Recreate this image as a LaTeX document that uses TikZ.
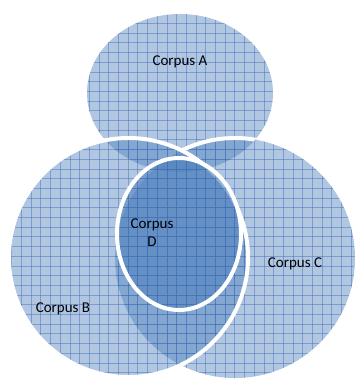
\documentclass[tikz,border=0pt]{standalone}
\usepackage{fontspec}
\setmainfont{Carlito}
\definecolor{vblue}{RGB}{79,129,189}
\definecolor{gridblue}{RGB}{60,105,180}
\begin{document}
\begin{tikzpicture}[x=1pt,y=-1pt,
  vfill/.style={fill=vblue, fill opacity=0.45},
  vgrid/.style={draw=gridblue, line width=0.7pt, draw opacity=0.45},
  vout/.style={draw=white, line width=4pt},
  lab/.style={font=\fontsize{15}{18}\selectfont, text=black, align=center, inner sep=0pt}]
\useasboundingbox (0,0) rectangle (355,382);
\def\shA{(180,93) ellipse [x radius=93, y radius=79]}
\def\shB{(128.5,257.5) circle [radius=119.5]}
\def\shC{(235,258) circle [radius=120]}
\def\shD{(179,234) ellipse [x radius=62, y radius=76]}
\newcommand\vgridlines{%
  \foreach \k in {0,...,37} {\draw[vgrid] (\k*9.7+2,0) -- (\k*9.7+2,390);}
  \foreach \k in {0,...,40} {\draw[vgrid] (0,\k*9.7+4) -- (360,\k*9.7+4);}}
% Corpus A
\fill[vfill] \shA;
\begin{scope}\clip \shA; \vgridlines\end{scope}
% Corpus C
\fill[vfill] \shC;
\begin{scope}\clip \shC; \vgridlines\end{scope}
\begin{scope}[even odd rule]
  \clip \shA;
  \clip (-10,-10) rectangle (370,400) \shB;
  \draw[vout] \shC;
\end{scope}
% Corpus B
\fill[vfill] \shB;
\begin{scope}\clip \shB; \vgridlines\end{scope}
\draw[vout] \shB;
% Corpus D
\fill[vblue, fill opacity=0.6] \shD;
\begin{scope}\clip \shD; \vgridlines\end{scope}
\draw[vout] \shD;
% labels
\node[lab] (la) at (180,62) {Corpus A};
\node[lab] (ld) at (152,233) {Corpus\\D};
\node[lab] (lc) at (295,264) {Corpus C};
\node[lab] (lb) at (63,309) {Corpus B};
\end{tikzpicture}
\end{document}
